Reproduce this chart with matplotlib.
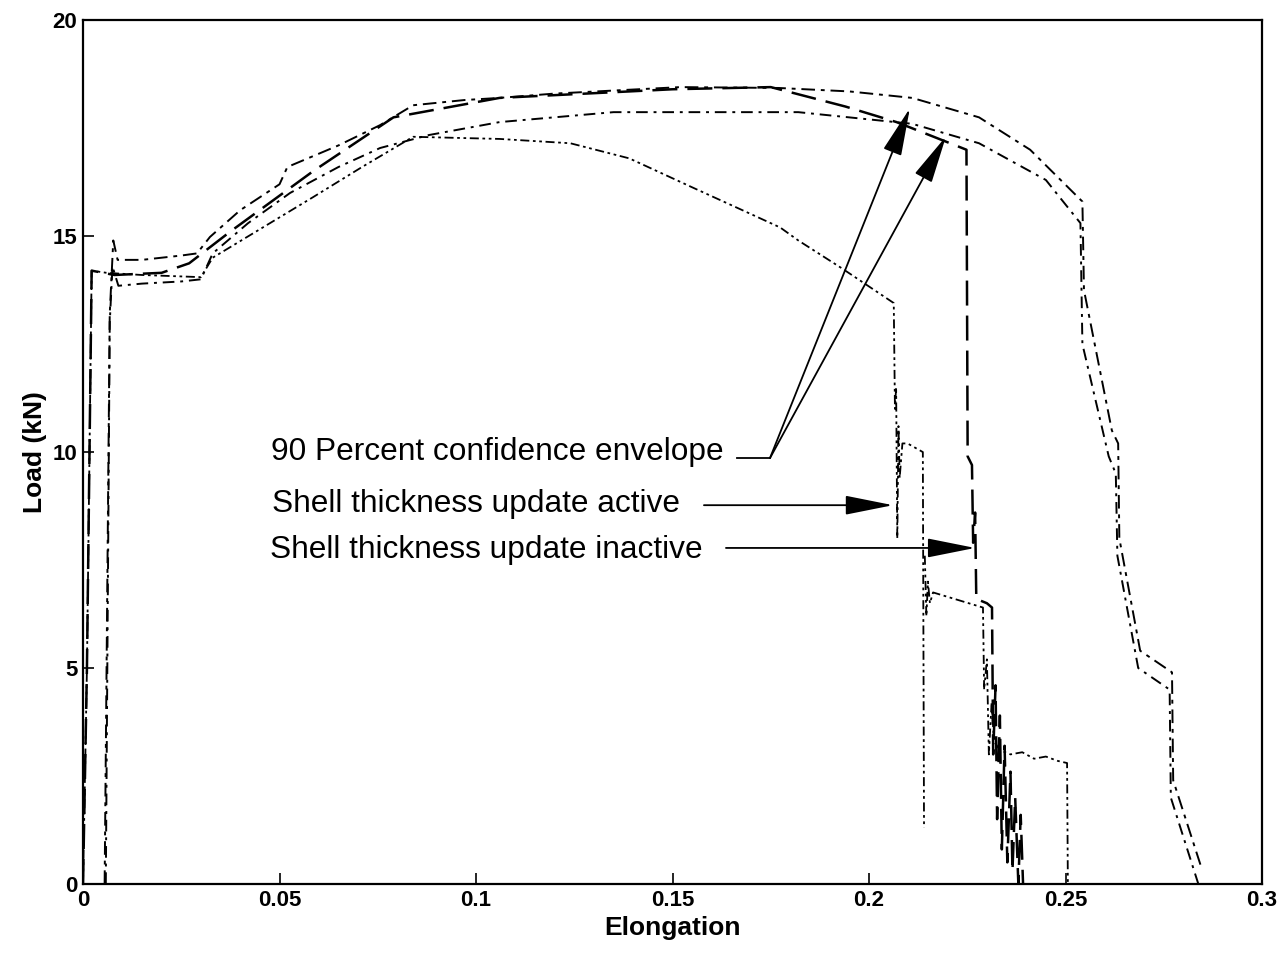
import matplotlib
matplotlib.use("Agg")
import matplotlib.pyplot as plt

plt.rcParams["font.family"] = ["Liberation Sans", "DejaVu Sans"]

# Upper bound of the 90 % confidence envelope
upper_x = [0.0055, 0.0068, 0.0077, 0.0088, 0.0150, 0.0250, 0.0290, 0.0323, 0.0400, 0.0500,
           0.0520, 0.0650, 0.0756, 0.0840, 0.0970, 0.1060, 0.1200, 0.1520, 0.1770, 0.1950,
           0.2110, 0.2280, 0.2410, 0.2543, 0.2547, 0.2618, 0.2634, 0.2637, 0.2690, 0.2771,
           0.2774, 0.2845]
upper_y = [0.0, 13.2, 14.9, 14.45, 14.45, 14.55, 14.6, 14.98, 15.6, 16.2,
           16.6, 17.1, 17.57, 18.03, 18.15, 18.2, 18.3, 18.45, 18.43, 18.35,
           18.2, 17.75, 17.0, 15.8, 13.75, 10.5, 10.2, 8.0, 5.4, 4.9,
           2.4, 0.4]

# Lower bound of the envelope
lower_x = [0.0058, 0.0068, 0.0075, 0.0090, 0.0150, 0.0250, 0.0300, 0.0330, 0.0420, 0.0527,
           0.0650, 0.0756, 0.0880, 0.1060, 0.1350, 0.1820, 0.2110, 0.2280, 0.2450, 0.2538,
           0.2543, 0.2610, 0.2628, 0.2632, 0.2685, 0.2765, 0.2768, 0.2838]
lower_y = [0.0, 13.0, 14.3, 13.85, 13.9, 13.95, 14.0, 14.6, 15.3, 16.0,
           16.6, 17.04, 17.34, 17.64, 17.87, 17.87, 17.6, 17.15, 16.3, 15.3,
           12.5, 9.9, 9.5, 7.6, 5.0, 4.5, 2.0, 0.0]

# Shell thickness update inactive
inactive_x = [0.0, 0.0010, 0.0022, 0.0080, 0.0200, 0.0270, 0.0374, 0.0585, 0.0790, 0.1060,
              0.1500, 0.1750, 0.1940, 0.2070, 0.2248, 0.2251, 0.2262, 0.2265, 0.2270, 0.2273,
              0.2300, 0.2313, 0.2316, 0.2322, 0.2326, 0.2333, 0.2338, 0.2345, 0.2352, 0.2360,
              0.2365, 0.2372, 0.2380, 0.2386, 0.2392]
inactive_y = [0.0, 5.0, 14.2, 14.1, 14.15, 14.37, 15.1, 16.5, 17.75, 18.2,
              18.4, 18.45, 18.0, 17.64, 17.0, 9.9, 9.7, 7.9, 8.6, 6.6,
              6.5, 6.4, 3.0, 4.6, 1.5, 3.9, 0.8, 3.2, 0.5, 2.6,
              0.3, 2.0, 0.0, 1.6, 0.0]

# Shell thickness update active
active_x = [0.0, 0.0010, 0.0022, 0.0060, 0.0150, 0.0300, 0.0330, 0.0585, 0.0710, 0.0840,
            0.0970, 0.1060, 0.1240, 0.1390, 0.1550, 0.1690, 0.1774, 0.1820, 0.1930, 0.2063,
            0.2066, 0.2069, 0.2072, 0.2075, 0.2078, 0.2085, 0.2098, 0.2137, 0.2140]
active_y = [0.0, 5.0, 14.2, 14.15, 14.1, 14.05, 14.5, 15.9, 16.6, 17.3,
            17.27, 17.25, 17.15, 16.8, 16.13, 15.55, 15.2, 14.9, 14.26, 13.45,
            11.0, 11.5, 8.0, 10.6, 9.4, 10.2, 10.2, 10.0, 1.3]
active_tail_x = [0.2142, 0.2146, 0.2150, 0.2155, 0.2163, 0.2290, 0.2293, 0.2300, 0.2305, 0.2312,
                 0.2318, 0.2333, 0.2360, 0.2390, 0.2420, 0.2450, 0.2480, 0.2504, 0.2506]
active_tail_y = [7.6, 6.2, 7.0, 6.5, 6.75, 6.4, 4.5, 5.2, 3.0, 4.2,
                 3.3, 3.1, 3.0, 3.05, 2.9, 2.95, 2.85, 2.8, 0.0]

x_ticks = [0, 0.05, 0.1, 0.15, 0.2, 0.25, 0.3]
x_tick_labels = ["0", "0.05", "0.1", "0.15", "0.2", "0.25", "0.3"]
y_ticks = [0, 5, 10, 15, 20]

fig = plt.figure(figsize=(12.85, 9.6), dpi=100)
ax = fig.add_axes([0.0646, 0.0792, 0.9175, 0.8998])

ax.plot(upper_x, upper_y, color="black", lw=1.4, dashes=(7, 3, 2, 3))
ax.plot(lower_x, lower_y, color="black", lw=1.4, dashes=(6, 3, 1.5, 3))
ax.plot(inactive_x, inactive_y, color="black", lw=1.8, dashes=(10, 4))
ax.plot(active_x, active_y, color="black", lw=1.3, dashes=(5, 2, 1.5, 2, 1.5, 2))
ax.plot(active_tail_x, active_tail_y, color="black", lw=1.3, dashes=(5, 2, 1.5, 2, 1.5, 2))

# Annotations with arrows
txt_size = 22.8
ax.text(0.0478, 10.0, "90 Percent confidence envelope", fontsize=txt_size, va="center")
ax.text(0.0481, 8.8, "Shell thickness update active", fontsize=txt_size, va="center")
ax.text(0.0476, 7.73, "Shell thickness update inactive", fontsize=txt_size, va="center")

arrow = dict(arrowstyle="-|>,head_length=1.5,head_width=0.3", color="black", lw=1.3,
             shrinkA=0, shrinkB=0, mutation_scale=20)
ax.plot([0.1664, 0.1748], [9.86, 9.86], color="black", lw=1.3)
ax.annotate("", xy=(0.2104, 17.96), xytext=(0.1748, 9.86), arrowprops=arrow)
ax.annotate("", xy=(0.2196, 17.31), xytext=(0.1748, 9.86), arrowprops=arrow)
ax.annotate("", xy=(0.2061, 8.77), xytext=(0.1580, 8.77), arrowprops=arrow)
ax.annotate("", xy=(0.2270, 7.78), xytext=(0.1636, 7.78), arrowprops=arrow)

ax.set_xlim(0, 0.3)
ax.set_ylim(0, 20)
ax.set_xticks(x_ticks)
ax.set_xticklabels(x_tick_labels)
ax.set_yticks(y_ticks)
ax.tick_params(direction="in", length=8, width=1.2, labelsize=16, pad=4)
for lab in ax.get_xticklabels() + ax.get_yticklabels():
    lab.set_fontweight("bold")
for sp in ax.spines.values():
    sp.set_linewidth(1.6)

ax.set_xlabel("Elongation", fontsize=19, fontweight="bold", labelpad=4)
ax.set_ylabel("Load (kN)", fontsize=19, fontweight="bold", labelpad=4)

fig.savefig("out.png", dpi=100)
